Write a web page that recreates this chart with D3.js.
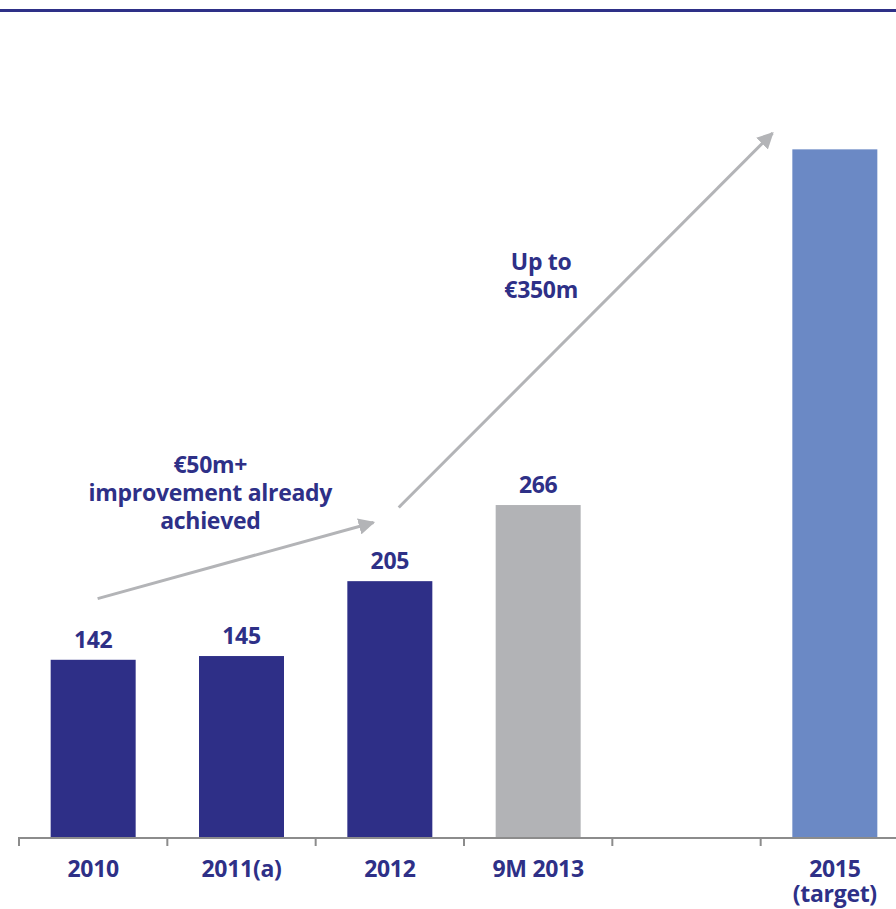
<!DOCTYPE html>
<html>
<head>
<meta charset="utf-8">
<script src="https://cdn.jsdelivr.net/npm/d3@7"></script>
<style>
  html, body { margin: 0; padding: 0; background: #ffffff; }
  svg { display: block; }
  text { font-family: "Open Sans", "Noto Sans", sans-serif; font-weight: 700; fill: #2E3087; letter-spacing: -0.3px; }
</style>
</head>
<body>
<svg id="chart" width="896" height="909"></svg>
<script>
// Categories along the axis; the empty slot keeps a gap before the target year
const categories = ["2010", "2011(a)", "2012", "9M 2013", "gap", "2015"];
const tickLabels = [["2010"], ["2011(a)"], ["2012"], ["9M 2013"], [""], ["2015", "(target)"]];
const values = [142, 145, 205, 266, null, 551];
const valueLabels = ["142", "145", "205", "266", "", ""];
const barColors = ["#2E2F87", "#2E2F87", "#2E2F87", "#B2B3B6", "#B2B3B6", "#6B89C5"];

// Growth arrows: positions along the category axis (slot index) and value axis
const arrows = [
  { x0: 0.03, v0: 191, x1: 1.89, v1: 252 },
  { x0: 2.06, v0: 264, x1: 4.58, v1: 564 }
];
const notes = [
  { pos: 0.79, v: 292, lines: ["€50m+", "improvement already", "achieved"] },
  { pos: 3.02, v: 454, lines: ["Up to", "€350m"] }
];

const svg = d3.select("#chart");
const left = 19, right = 909, baseline = 837;
const fontSize = 23;

const x = d3.scaleBand()
  .domain(categories)
  .range([left, right])
  .paddingInner(0.427)
  .paddingOuter(0.2135);

// continuous slot scale for annotations (slot i centred at i)
const xPos = d3.scaleLinear().domain([-0.5, categories.length - 0.5]).range([left, right]);

const y = d3.scaleLinear().domain([0, 100]).range([baseline, baseline - 124.8]);

// header rule
svg.append("rect").attr("x", 0).attr("y", 9).attr("width", 896).attr("height", 3).attr("fill", "#2E3087");

// bars
const data = categories.map((c, i) => ({ c, v: values[i], label: valueLabels[i], color: barColors[i] }))
  .filter(d => d.v != null);

svg.append("g").selectAll("rect").data(data).join("rect")
  .attr("x", d => x(d.c))
  .attr("y", d => y(d.v))
  .attr("width", x.bandwidth())
  .attr("height", d => y(0) - y(d.v))
  .attr("fill", d => d.color);

svg.append("g").selectAll("text").data(data.filter(d => d.label)).join("text")
  .attr("x", d => x(d.c) + x.bandwidth() / 2)
  .attr("y", d => y(d.v) - 12)
  .attr("text-anchor", "middle")
  .attr("font-size", fontSize)
  .text(d => d.label);

// category axis with ticks at slot boundaries
const axisColor = "#8C8C8C";
const axis = svg.append("g");
axis.append("line")
  .attr("x1", left).attr("x2", right)
  .attr("y1", baseline + 1).attr("y2", baseline + 1)
  .attr("stroke", axisColor).attr("stroke-width", 2);
const boundaries = d3.range(categories.length + 1).map(i => xPos(i - 0.5));
axis.selectAll("line.tick").data(boundaries).join("line")
  .attr("class", "tick")
  .attr("x1", d => d).attr("x2", d => d)
  .attr("y1", baseline).attr("y2", baseline + 9)
  .attr("stroke", axisColor).attr("stroke-width", 2);

const labelG = axis.selectAll("text").data(categories).join("text")
  .attr("x", d => x(d) + x.bandwidth() / 2)
  .attr("y", 877)
  .attr("text-anchor", "middle")
  .attr("font-size", fontSize);
labelG.each(function (d, i) {
  const t = d3.select(this);
  tickLabels[i].forEach((line, k) => {
    t.append("tspan").attr("x", x(d) + x.bandwidth() / 2).attr("dy", k === 0 ? 0 : 25).text(line);
  });
});

// arrows
const defs = svg.append("defs");
defs.append("marker")
  .attr("id", "head")
  .attr("viewBox", "0 0 10 10")
  .attr("refX", 9).attr("refY", 5)
  .attr("markerWidth", 5.5).attr("markerHeight", 5.5)
  .attr("markerUnits", "strokeWidth")
  .attr("orient", "auto")
  .append("path").attr("d", "M0,0 L10,5 L0,10 Z").attr("fill", "#B3B4B7");

svg.append("g").selectAll("line").data(arrows).join("line")
  .attr("x1", d => xPos(d.x0)).attr("y1", d => y(d.v0))
  .attr("x2", d => xPos(d.x1)).attr("y2", d => y(d.v1))
  .attr("stroke", "#B3B4B7").attr("stroke-width", 3)
  .attr("marker-end", "url(#head)");

// annotation notes
svg.append("g").selectAll("text").data(notes).join("text")
  .attr("text-anchor", "middle")
  .attr("font-size", fontSize)
  .each(function (d) {
    const t = d3.select(this);
    d.lines.forEach((line, k) => {
      t.append("tspan").attr("x", xPos(d.pos)).attr("y", y(d.v) + k * 28).text(line);
    });
  });
</script>
</body>
</html>
